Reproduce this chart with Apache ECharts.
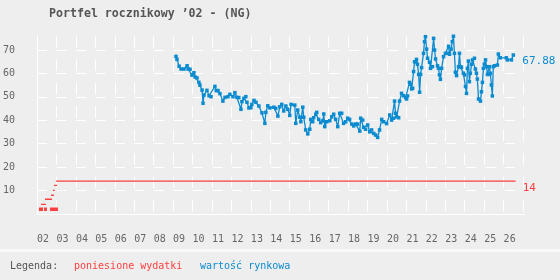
<!DOCTYPE html>
<html><head><meta charset="utf-8">
<script src="https://cdn.jsdelivr.net/npm/echarts@6/dist/echarts.min.js"></script>
<style>html,body{margin:0;padding:0;background:#eeeeee}#c{width:560px;height:280px}</style>
</head><body><div id="c"></div>
<script>
const titleText = "Portfel rocznikowy ’02 - (NG)";
const legendLabel = "Legenda:";
const redName = "poniesione wydatki";
const blueName = "wartość rynkowa";
const yTicks = [10, 20, 30, 40, 50, 60, 70];
const yearLabels = ["02","03","04","05","06","07","08","09","10","11","12","13","14","15","16","17","18","19","20","21","22","23","24","25","26"];

// poniesione wydatki: horizontal segments [startYear, endYear, value]
const redThin = [
  [2002.21, 2002.46, 4.1],
  [2002.41, 2002.77, 6.3],
  [2002.72, 2002.87, 8.0],
  [2002.82, 2002.92, 10.1],
  [2002.87, 2003.03, 12.2],
  [2002.97, 2026.62, 14]
];
const redThick = [
  [2002.10, 2002.31, 2.0],
  [2002.36, 2002.51, 2.0],
  [2002.67, 2003.08, 2.0]
];

// wartość rynkowa: [year, value]
const blueYears = [2009.15,2009.20,2009.31,2009.41,2009.56,2009.72,2009.77,2009.87,2009.97,2010.07,2010.13,2010.23,2010.33,2010.38,2010.49,2010.54,2010.59,2010.74,2010.85,2010.95,2011.15,2011.22,2011.31,2011.41,2011.56,2011.67,2011.82,2011.92,2012.08,2012.18,2012.28,2012.38,2012.49,2012.54,2012.64,2012.74,2012.80,2012.90,2013.00,2013.05,2013.16,2013.26,2013.41,2013.57,2013.72,2013.77,2013.87,2013.98,2014.18,2014.28,2014.39,2014.49,2014.59,2014.69,2014.80,2014.90,2015.00,2015.07,2015.26,2015.31,2015.41,2015.52,2015.57,2015.67,2015.72,2015.82,2015.93,2016.03,2016.08,2016.18,2016.23,2016.34,2016.39,2016.49,2016.59,2016.70,2016.75,2016.80,2016.90,2017.06,2017.16,2017.26,2017.36,2017.47,2017.57,2017.67,2017.77,2017.88,2017.98,2018.08,2018.19,2018.29,2018.39,2018.49,2018.60,2018.65,2018.75,2018.80,2018.90,2019.01,2019.11,2019.21,2019.32,2019.42,2019.52,2019.62,2019.73,2019.83,2019.98,2020.14,2020.24,2020.34,2020.39,2020.44,2020.50,2020.60,2020.65,2020.75,2020.85,2020.96,2021.01,2021.06,2021.16,2021.21,2021.27,2021.32,2021.37,2021.42,2021.47,2021.52,2021.57,2021.63,2021.68,2021.73,2021.78,2021.88,2021.93,2021.98,2022.04,2022.09,2022.19,2022.24,2022.34,2022.40,2022.45,2022.50,2022.60,2022.65,2022.70,2022.75,2022.81,2022.91,2023.01,2023.11,2023.17,2023.22,2023.30,2023.36,2023.42,2023.47,2023.52,2023.58,2023.68,2023.73,2023.78,2023.83,2023.93,2023.99,2024.04,2024.09,2024.14,2024.19,2024.24,2024.29,2024.35,2024.40,2024.50,2024.55,2024.60,2024.65,2024.71,2024.81,2024.86,2024.91,2024.96,2025.01,2025.07,2025.12,2025.17,2025.22,2025.27,2025.32,2025.37,2025.42,2025.47,2025.53,2025.68,2025.73,2025.83,2026.14,2026.19,2026.40,2026.50];
const blueValues = [67.3,66.0,63.1,61.9,61.9,63.3,61.9,61.8,59.3,60.3,58.5,58.1,56.2,55.0,52.9,47.3,50.8,52.8,50.5,50.1,54.5,52.7,52.7,51.4,48.2,49.8,50.1,51.1,50.1,51.8,49.8,49.7,44.7,48.0,49.4,50.1,47.7,45.3,45.4,46.8,48.5,47.7,46.1,43.2,38.7,43.4,46.2,45.3,45.6,45.1,41.8,45.8,46.8,44.0,46.1,44.7,42.1,46.8,46.5,38.7,44.4,41.3,39.4,45.6,41.3,35.9,34.2,36.2,40.4,39.4,41.1,42.6,43.4,40.4,39.0,39.8,42.7,37.3,39.4,39.8,41.5,42.6,40.4,37.3,43.0,43.0,38.7,39.4,40.9,40.4,38.4,37.6,38.4,38.4,35.4,40.9,40.1,37.0,36.2,38.0,35.1,35.9,34.4,33.7,32.7,35.9,40.4,39.4,38.6,42.3,40.1,40.9,48.2,43.0,41.5,41.1,48.2,51.5,50.5,49.7,49.1,50.4,56.2,55.4,53.4,53.7,60.8,65.0,65.0,66.0,63.9,59.6,52.0,59.6,62.5,68.6,73.6,75.7,70.4,66.5,64.8,62.2,62.9,75.0,70.0,66.2,63.3,62.2,59.4,57.5,62.2,67.2,68.6,68.6,71.6,68.2,70.4,73.6,75.9,68.6,60.5,59.1,62.9,68.6,62.9,62.6,60.1,59.4,54.4,51.5,62.2,65.3,56.5,60.1,63.9,65.8,66.5,61.9,60.1,57.6,49.1,48.2,52.2,56.2,62.2,64.0,65.8,62.9,59.6,59.6,62.9,60.1,55.1,50.4,62.9,63.3,63.6,68.3,66.7,66.7,65.8,65.8,67.88];

const RED = '#ff4040', BLUE = '#0a8bd0';
const FONT = 'DejaVu Sans Mono';

function segs(list) {
  const out = [];
  list.forEach(s => { out.push([s[0], s[2]], [s[1], s[2]], [null, null]); });
  out.pop();
  return out;
}
const blueData = blueYears.map((y, i) => [y, blueValues[i]]);

const chart = echarts.init(document.getElementById('c'), null, {renderer: 'canvas'});
chart.setOption({
  animation: false,
  backgroundColor: '#eeeeee',
  textStyle: {fontFamily: FONT},
  title: {
    text: titleText, left: 44, top: 3,
    textStyle: {fontFamily: FONT, fontSize: 11.6, fontWeight: 'bold', color: '#555555'}
  },
  grid: {left: 36, right: 35, top: 36, bottom: 66},
  xAxis: {
    type: 'value', min: 2002, max: 2027.1, interval: 1,
    axisLine: {show: true, lineStyle: {color: '#ffffff', width: 1}},
    axisTick: {show: false},
    axisLabel: {
      align: 'left', margin: 20, color: '#666666', fontSize: 10, fontFamily: FONT,
      showMaxLabel: false,
      formatter: v => { const i = Math.round(v) - 2002; return (Math.abs(v - Math.round(v)) < 1e-6 && i >= 0 && i < yearLabels.length) ? yearLabels[i] : ''; }
    },
    splitLine: {show: true, showMinLine: false, showMaxLine: false, lineStyle: {color: '#ffffff', width: 1, type: [11.7, 11.7], dashOffset: 0}}
  },
  yAxis: {
    type: 'value', min: 0, max: 76, interval: 10,
    axisLine: {show: true, lineStyle: {color: '#ffffff', width: 1}},
    axisTick: {show: false},
    axisLabel: {
      align: 'left', margin: 34, color: '#666666', fontSize: 10, fontFamily: FONT,
      padding: [7, 0, 0, 0],
      formatter: v => yTicks.indexOf(v) >= 0 ? String(v) : ''
    },
    splitLine: {show: true, showMinLine: false, showMaxLine: false, lineStyle: {color: '#ffffff', width: 1, type: [10, 9.5]}}
  },
  series: [
    {
      type: 'line', name: redName + '2', data: segs(redThick), connectNulls: false,
      showSymbol: false, lineStyle: {color: RED, width: 3.5}, itemStyle: {color: RED}, silent: true
    },
    {
      type: 'line', name: redName, data: segs(redThin), connectNulls: false,
      showSymbol: false, lineStyle: {color: RED, width: 1.3}, itemStyle: {color: RED}, silent: true,
      endLabel: {show: true, formatter: '14', color: RED, fontFamily: FONT, fontSize: 11, distance: 5, offset: [2, 7]}
    },
    {
      type: 'line', name: blueName, data: blueData,
      symbol: 'rect', symbolSize: 3.5, showSymbol: true, showAllSymbol: true,
      lineStyle: {color: BLUE, width: 1.3}, itemStyle: {color: BLUE}, silent: true,
      endLabel: {show: true, formatter: '67.88', color: BLUE, fontFamily: FONT, fontSize: 11, distance: 5, offset: [4, 6]}
    }
  ],
  graphic: [
    {type: 'rect', left: 0, top: 249, shape: {width: 560, height: 3}, style: {fill: '#f8f8f8'}, silent: true},
    {type: 'text', left: 10, top: 261, style: {text: legendLabel, fill: '#555555', font: '10px "DejaVu Sans Mono"'}},
    {type: 'text', left: 74, top: 261, style: {text: redName, fill: RED, font: '10px "DejaVu Sans Mono"'}},
    {type: 'text', left: 200, top: 261, style: {text: blueName, fill: BLUE, font: '10px "DejaVu Sans Mono"'}}
  ]
});
</script></body></html>
